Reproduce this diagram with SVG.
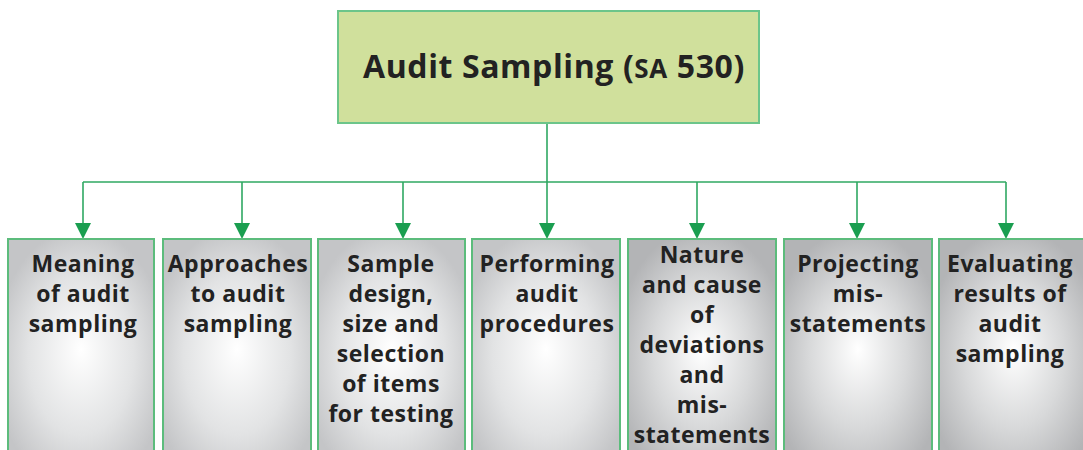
<svg xmlns="http://www.w3.org/2000/svg" width="1083" height="450" viewBox="0 0 1083 450">
<style>
.box{stroke:#5cbc7c;stroke-width:2}
.t{font-family:"Open Sans","Liberation Sans",sans-serif;font-weight:bold;font-size:23px;letter-spacing:0.5px;fill:#222;text-anchor:middle}
.c{stroke:#2fa862;stroke-width:1.6;fill:none}
.ah{fill:#1a9e50}
</style>
<defs>
<radialGradient id="g" cx="50%" cy="55%" r="60%" fx="50%" fy="50%">
<stop offset="0" stop-color="#ffffff"/>
<stop offset="0.6" stop-color="#e2e3e4"/>
<stop offset="1" stop-color="#c4c5c7"/>
</radialGradient>
<radialGradient id="g2" cx="50%" cy="55%" r="60%" fx="50%" fy="50%">
<stop offset="0" stop-color="#ffffff"/>
<stop offset="0.55" stop-color="#d8d9da"/>
<stop offset="1" stop-color="#b3b4b6"/>
</radialGradient>
</defs>
<rect width="1083" height="450" fill="#fff"/>
<g id="connectors">
<path class="c" d="M547,123 V182"/>
<path class="c" d="M83,182 H1006"/>
<line class="c" x1="83" y1="182" x2="83" y2="223"/>
<path class="ah" d="M75,223 L91,223 L83,239 Z"/>
<line class="c" x1="242" y1="182" x2="242" y2="223"/>
<path class="ah" d="M234,223 L250,223 L242,239 Z"/>
<line class="c" x1="403" y1="182" x2="403" y2="223"/>
<path class="ah" d="M395,223 L411,223 L403,239 Z"/>
<line class="c" x1="547" y1="182" x2="547" y2="223"/>
<path class="ah" d="M539,223 L555,223 L547,239 Z"/>
<line class="c" x1="697" y1="182" x2="697" y2="223"/>
<path class="ah" d="M689,223 L705,223 L697,239 Z"/>
<line class="c" x1="857" y1="182" x2="857" y2="223"/>
<path class="ah" d="M849,223 L865,223 L857,239 Z"/>
<line class="c" x1="1006" y1="182" x2="1006" y2="223"/>
<path class="ah" d="M998,223 L1014,223 L1006,239 Z"/>
</g>
<g id="root">
<rect x="338" y="11" width="421" height="112" fill="#d0e09c" stroke="#6cc58a" stroke-width="2"/>
<text x="363" y="78" style="font-family:'Open Sans','Liberation Sans',sans-serif;font-weight:bold;font-size:32px;letter-spacing:0.6px;fill:#222">Audit Sampling (<tspan font-size="26">SA</tspan> 530)</text>
</g>
<g id="n1">
<rect class="box" x="8" y="239" width="146" height="220" fill="url(#g)"/>
<text class="t" x="83" y="272">Meaning</text>
<text class="t" x="83" y="302">of audit</text>
<text class="t" x="83" y="332">sampling</text>
</g>
<g id="n2">
<rect class="box" x="163" y="239" width="148" height="220" fill="url(#g)"/>
<text class="t" x="238" y="272">Approaches</text>
<text class="t" x="238" y="302">to audit</text>
<text class="t" x="238" y="332">sampling</text>
</g>
<g id="n3">
<rect class="box" x="318" y="239" width="147" height="220" fill="url(#g)"/>
<text class="t" x="391" y="272">Sample</text>
<text class="t" x="391" y="302">design,</text>
<text class="t" x="391" y="332">size and</text>
<text class="t" x="391" y="362">selection</text>
<text class="t" x="391" y="392">of items</text>
<text class="t" x="391" y="422">for testing</text>
</g>
<g id="n4">
<rect class="box" x="472" y="239" width="148" height="220" fill="url(#g)"/>
<text class="t" x="547" y="272">Performing</text>
<text class="t" x="547" y="302">audit</text>
<text class="t" x="547" y="332">procedures</text>
</g>
<g id="n5">
<rect class="box" x="628" y="239" width="148" height="220" fill="url(#g2)"/>
<text class="t" x="702" y="263">Nature</text>
<text class="t" x="702" y="293">and cause</text>
<text class="t" x="702" y="323">of</text>
<text class="t" x="702" y="353">deviations</text>
<text class="t" x="702" y="383">and</text>
<text class="t" x="702" y="413">mis-</text>
<text class="t" x="702" y="443">statements</text>
</g>
<g id="n6">
<rect class="box" x="784" y="239" width="148" height="220" fill="url(#g2)"/>
<text class="t" x="858" y="272">Projecting</text>
<text class="t" x="858" y="302">mis-</text>
<text class="t" x="858" y="332">statements</text>
</g>
<g id="n7">
<rect class="box" x="939" y="239" width="150" height="220" fill="url(#g2)"/>
<text class="t" x="1010" y="272">Evaluating</text>
<text class="t" x="1010" y="302">results of</text>
<text class="t" x="1010" y="332">audit</text>
<text class="t" x="1010" y="362">sampling</text>
</g>
</svg>
